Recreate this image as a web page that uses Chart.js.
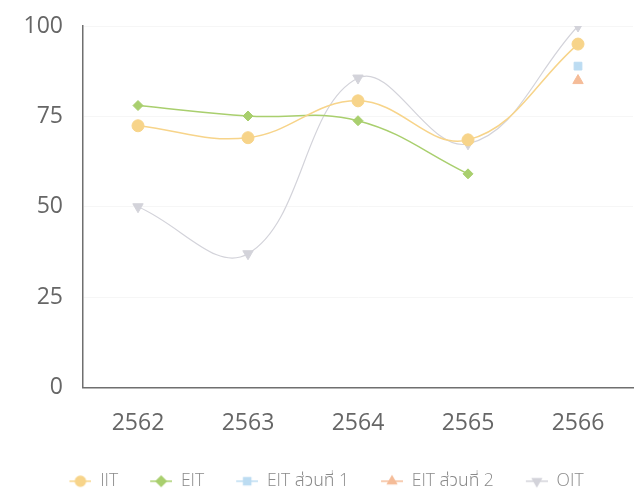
<!DOCTYPE html>
<html>
<head>
<meta charset="utf-8">
<script src="https://cdn.jsdelivr.net/npm/chart.js@4.4.1/dist/chart.umd.min.js"></script>
<style>
html,body{margin:0;padding:0;background:#fff;}
#wrap{width:640px;height:492px;position:relative;}
</style>
</head>
<body>
<div id="wrap"><canvas id="c" width="640" height="492"></canvas></div>
<script>
const years = ['2562', '2563', '2564', '2565', '2566'];
const iit = [72.4, 69.1, 79.3, 68.5, 95.0];
const eit = [78.0, 75.1, 73.8, 59.1, null];
const eitPart1 = [null, null, null, null, 88.9];
const eitPart2 = [null, null, null, null, 84.9];
const oit = [50.0, 37.0, 85.6, 67.4, 100.0];
const yTicks = [0, 25, 50, 75, 100];

const seriesNames = ['IIT', 'EIT', 'EIT ส่วนที่ 1', 'EIT ส่วนที่ 2', 'OIT'];
const seriesColors = ['#f7d48a', '#a9cf6e', '#bcdcf2', '#f5bc98', '#d3d3da'];

const FONT = "'Open Sans', 'Noto Sans Thai', 'Noto Sans', 'DejaVu Sans', sans-serif";

const SW = 52;
// legend swatch: short line with the marker in the middle (legend only)
function legendSwatch(color, style, rotation) {
  const W = SW, H = 16, lineW = 22;
  const cv = document.createElement('canvas');
  cv.width = W; cv.height = H;
  const ctx = cv.getContext('2d');
  const cx = W - lineW / 2, cy = H / 2;
  ctx.strokeStyle = color;
  ctx.fillStyle = color;
  ctx.lineWidth = 1.5;
  ctx.beginPath();
  ctx.moveTo(W - lineW, cy);
  ctx.lineTo(W, cy);
  ctx.stroke();
  Chart.helpers.drawPoint(ctx, { pointStyle: style, radius: 5, rotation: rotation || 0, borderWidth: 1 }, cx, cy);
  return cv;
}

const styles = [['circle', 0, 6], ['rectRot', 0, 5], ['rect', 0, 5.5], ['triangle', 0, 6], ['triangle', 180, 6]];
const allData = [iit, eit, eitPart1, eitPart2, oit];

const datasets = allData.map((d, i) => ({
  label: seriesNames[i],
  data: d,
  borderColor: seriesColors[i],
  backgroundColor: seriesColors[i],
  pointStyle: styles[i][0],
  pointRotation: styles[i][1],
  pointRadius: styles[i][2],
  pointBorderWidth: 1,
  borderWidth: i === 4 ? 1.2 : 1.5,
  tension: 0.4
}));

const swatches = styles.map((s, i) => legendSwatch(seriesColors[i], s[0], s[1]));

new Chart(document.getElementById('c'), {
  type: 'line',
  data: { labels: years, datasets },
  options: {
    responsive: false,
    animation: false,
    layout: { padding: { left: -12, right: 5, top: 26, bottom: -8 } },
    plugins: {
      tooltip: { enabled: false },
      legend: {
        position: 'bottom',
        labels: {
          usePointStyle: true,
          pointStyleWidth: SW,
          boxHeight: 16,
          padding: 2,
          color: '#8a8a8a',
          font: { family: FONT, size: 17.5, weight: '300' },
          generateLabels(chart) {
            return chart.data.datasets.map((ds, i) => ({
              text: ds.label,
              fillStyle: ds.backgroundColor,
              strokeStyle: ds.borderColor,
              fontColor: '#8a8a8a',
              lineWidth: 0,
              pointStyle: swatches[i],
              hidden: false,
              datasetIndex: i
            }));
          }
        }
      }
    },
    scales: {
      x: {
        offset: true,
        grid: { display: false, drawTicks: false },
        border: { display: true, color: '#6f6f6f', width: 1.5 },
        ticks: { color: '#666', padding: 22, font: { family: FONT, size: 23 } },
        afterFit(s) { s.height = 83; s.paddingLeft = 0; s.paddingRight = 0; }
      },
      y: {
        min: 0, max: 100,
        afterBuildTicks(s) { s.ticks = yTicks.map(v => ({ value: v })); },
        grid: { color: 'rgba(0,0,0,0.035)', drawTicks: false },
        border: { display: true, color: '#6f6f6f', width: 1.5 },
        ticks: { color: '#666', padding: 20, font: { family: FONT, size: 23 } },
        afterFit(s) { s.width = 95; s.paddingTop = 0; s.paddingBottom = 0; }
      }
    }
  }
});
</script>
</body>
</html>
